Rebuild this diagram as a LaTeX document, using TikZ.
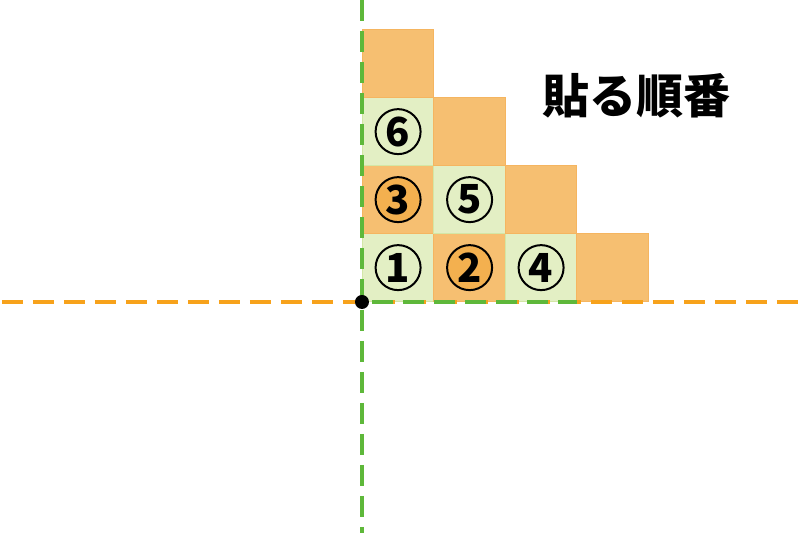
\documentclass[tikz,border=0pt]{standalone}
\usepackage{fontspec}
\usepackage{tikz}
\newfontfamily\jpfont{Noto Sans CJK JP}

\definecolor{tileorange}{HTML}{F6BF71}
\definecolor{tileedge}{HTML}{F5B560}
\definecolor{tilegreen}{HTML}{E3EFC4}
\definecolor{tilegreenedge}{HTML}{D3E7A6}
\definecolor{circfill}{HTML}{F3B04F}
\definecolor{axisorange}{HTML}{F7A21B}
\definecolor{axisgreen}{HTML}{5EB83A}

\begin{document}
\begin{tikzpicture}[x=71.5pt, y=68pt,
    tile/.style={minimum width=71.5pt, minimum height=68pt, inner sep=0pt, anchor=south west, line width=0.7pt},
    otile/.style={tile, fill=tileorange, draw=tileedge},
    gtile/.style={tile, fill=tilegreen, draw=tilegreenedge},
    num/.style={circle, draw=black, line width=2pt, minimum size=45pt, inner sep=0pt,
        font=\jpfont\bfseries\fontsize{40}{40}\selectfont},
    axis/.style={line width=4.5pt, dash pattern=on 21pt off 10pt}]

    % Frame of the picture
    \useasboundingbox (-5.063,-3.397) rectangle (6.126,4.441);

    % Define points
    \coordinate (O) at (0,0);
    \coordinate (xl) at (-5.035,0);
    \coordinate (xr) at (6.126,0);
    \coordinate (yt) at (0,4.441);
    \coordinate (yb) at (0,-3.397);

    % Tiles, column/row/style
    \foreach \c/\r/\s in {0/0/gtile, 1/0/otile, 2/0/gtile, 3/0/otile,
                          0/1/otile, 1/1/gtile, 2/1/otile,
                          0/2/gtile, 1/2/otile,
                          0/3/otile} {
        \node[\s] (t\c\r) at (\c,\r) {};
    }

    % Order of the tiles
    \node[num] (n1) at (t00) {1};
    \node[num, fill=circfill] (n2) at (t10) {2};
    \node[num, fill=circfill] (n3) at (t01) {3};
    \node[num] (n4) at (t20) {4};
    \node[num] (n5) at (t11) {5};
    \node[num] (n6) at (t02) {6};

    % Draw axes
    \draw[axis, axisorange] (xl) -- (xr);
    \draw[axis, axisgreen, dash phase=21pt] (O) -- (t20.south east);
    \draw[axis, axisgreen] (yt) -- (yb);

    % Dot at the origin
    \node[circle, fill=black, minimum size=14pt, inner sep=0pt] (dot) at (O) {};

    % Label
    \node[font=\jpfont\bfseries\fontsize{47}{47}\selectfont] (title) at (3.84,3.03) {貼る順番};
\end{tikzpicture}
\end{document}
